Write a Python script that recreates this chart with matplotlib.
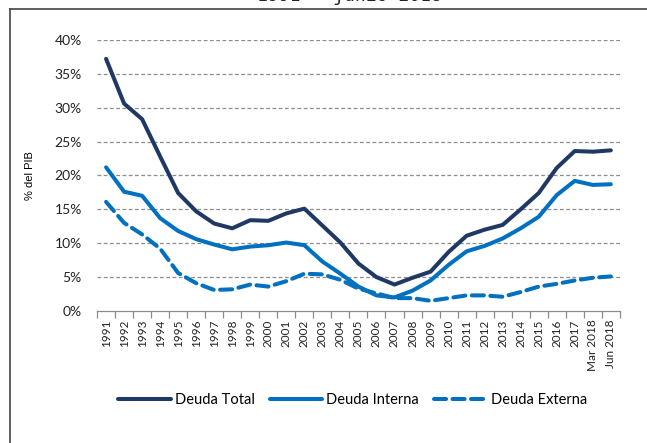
import numpy as np
import matplotlib
matplotlib.use('Agg')
import matplotlib.pyplot as plt
from matplotlib.lines import Line2D
from matplotlib.ticker import FuncFormatter, FixedLocator

plt.rcParams['font.family'] = ['Lato', 'DejaVu Sans']

# ── Data ──────────────────────────────────────────────────────────────────────
periods = [str(y) for y in range(1991, 2018)] + ['Mar 2018', 'Jun 2018']

deuda_total = [37.2, 30.6, 28.3, 22.8, 17.4, 14.7, 12.9, 12.2, 13.4, 13.3,
               14.4, 15.1, 12.6, 10.1, 7.0, 5.0, 3.9, 4.9, 5.8, 8.7,
               11.1, 12.0, 12.7, 15.0, 17.4, 21.1, 23.6, 23.5, 23.7]
deuda_interna = [21.2, 17.6, 17.0, 13.7, 11.8, 10.6, 9.8, 9.1, 9.5, 9.7,
                 10.1, 9.7, 7.3, 5.5, 3.6, 2.3, 2.0, 3.0, 4.5, 6.8,
                 8.8, 9.6, 10.7, 12.2, 13.9, 17.1, 19.2, 18.6, 18.7]
deuda_externa = [16.1, 13.0, 11.3, 9.2, 5.6, 4.1, 3.1, 3.2, 3.9, 3.6,
                 4.4, 5.5, 5.4, 4.6, 3.3, 2.6, 1.9, 1.9, 1.5, 1.9,
                 2.3, 2.3, 2.1, 2.8, 3.6, 4.0, 4.5, 4.9, 5.1]

COL_TOTAL = '#1F3864'
COL_INT = '#0070C0'

# ── Figure ────────────────────────────────────────────────────────────────────
fig = plt.figure(figsize=(6.47, 4.43), dpi=100)
ax = fig.add_axes([0.150, 0.298, 0.808, 0.612])

x = np.arange(len(periods))
ax.plot(x, deuda_total, color=COL_TOTAL, lw=2.9, solid_capstyle='round',
        label='Deuda Total', zorder=3)
ax.plot(x, deuda_interna, color=COL_INT, lw=2.9, solid_capstyle='round',
        label='Deuda Interna', zorder=3)
ax.plot(x, deuda_externa, color=COL_INT, lw=2.9, ls=(0, (3, 1.6)),
        dash_capstyle='round', label='Deuda Externa', zorder=3)

ax.set_xlim(-0.5, len(periods) - 0.5)
ax.set_ylim(0, 40)
ax.set_yticks(np.arange(0, 41, 5))
ax.yaxis.set_major_formatter(FuncFormatter(lambda v, p: f'{v:.0f}%'))
for v in range(5, 41, 5):
    ax.axhline(v, color='#8C8C8C', lw=0.9, ls=(0, (3, 2)), zorder=1)

ax.set_xticks(x)
ax.set_xticklabels(periods, rotation=90, fontsize=8.5, color='#222222')
ax.xaxis.set_minor_locator(FixedLocator(np.arange(-0.5, len(periods), 1)))
ax.tick_params(axis='x', which='major', length=0, pad=6)
ax.tick_params(axis='x', which='minor', length=5, color='#8C8C8C', width=0.9)
ax.tick_params(axis='y', length=0, labelsize=10, pad=11, colors='#222222')

for s in ['top', 'right', 'left']:
    ax.spines[s].set_visible(False)
ax.spines['bottom'].set_color('#8C8C8C')
ax.spines['bottom'].set_linewidth(0.9)

ax.set_ylabel('% del PIB', fontsize=8, family=['Liberation Sans'], labelpad=14)

fig.legend(loc='center', bbox_to_anchor=(0.545, 0.097), ncol=3, frameon=False,
           fontsize=10.5, handlelength=3.6, handletextpad=0.3, columnspacing=1.0)

# frame lines (top and left)
fig.add_artist(Line2D([10 / 647, 1], [1 - 9 / 443, 1 - 9 / 443],
                      color='#444444', lw=1.2, transform=fig.transFigure))
fig.add_artist(Line2D([10 / 647, 10 / 647], [0, 1 - 9 / 443],
                      color='#444444', lw=1.2, transform=fig.transFigure))

# title, cut at the top edge as in the source image
fig.text(0.54, 1 - 5 / 443, '1991 – junio 2018', ha='center', va='bottom',
         fontsize=13, family=['DejaVu Sans Mono'], color='#222222')

fig.savefig('out.png', dpi=100)
